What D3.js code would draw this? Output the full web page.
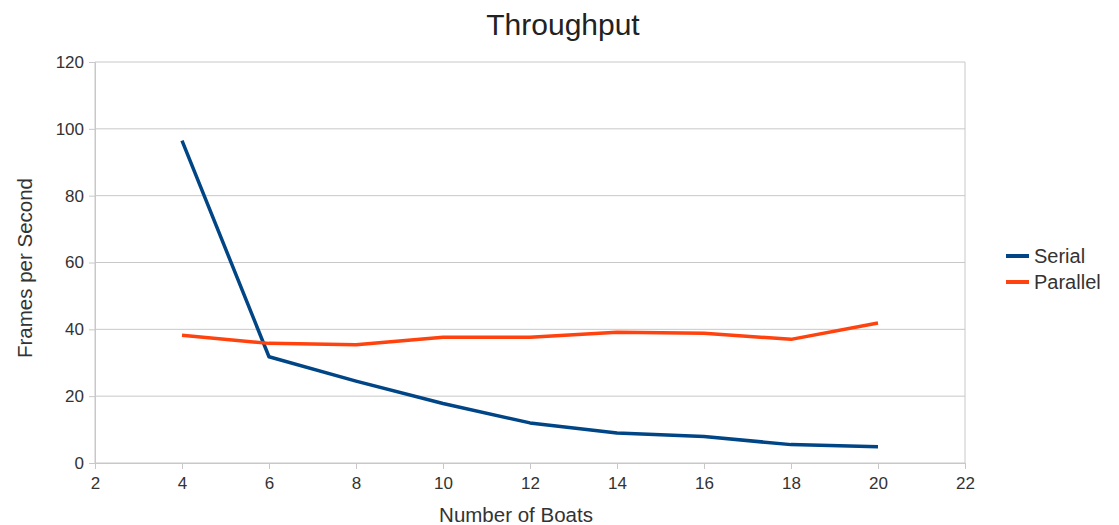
<!DOCTYPE html>
<html><head><meta charset="utf-8">
<script src="https://cdn.jsdelivr.net/npm/d3@7"></script>
<style>body{margin:0;background:#fff;font-family:"Liberation Sans",Arial,sans-serif;}</style>
</head><body><svg id="c" width="1119" height="525"></svg>
<script>
const boats = [4, 6, 8, 10, 12, 14, 16, 18, 20];
const serial = [96.5, 31.8, 24.5, 17.8, 12.0, 9.0, 7.9, 5.5, 4.9];
const parallel = [38.2, 35.8, 35.4, 37.6, 37.6, 39.1, 38.8, 37.0, 41.9];
const xTicks = [2, 4, 6, 8, 10, 12, 14, 16, 18, 20, 22];
const yTicks = [0, 20, 40, 60, 80, 100, 120];
const seriesNames = ["Serial", "Parallel"];
const colors = ["#004586", "#ff420e"];

const svg = d3.select("#c");
const L = 95, R = 965, T = 62, B = 463;
const x = d3.scaleLinear().domain([2, 22]).range([L, R]);
const y = d3.scaleLinear().domain([0, 120]).range([B, T]);
const grid = "#c8c8c8";

svg.append("g").selectAll("line").data(yTicks).join("line")
  .attr("x1", L).attr("x2", R).attr("y1", d => y(d)).attr("y2", d => y(d))
  .attr("stroke", grid).attr("stroke-width", 1);
svg.append("line").attr("x1", L).attr("x2", L).attr("y1", T).attr("y2", B).attr("stroke", grid);
svg.append("line").attr("x1", R).attr("x2", R).attr("y1", T).attr("y2", B).attr("stroke", grid);

const xa = svg.append("g").attr("transform", `translate(0,${B})`)
  .call(d3.axisBottom(x).tickValues(xTicks).tickSize(6).tickPadding(8));
const ya = svg.append("g").attr("transform", `translate(${L},0)`)
  .call(d3.axisLeft(y).tickValues(yTicks).tickSize(6).tickPadding(5));
[xa, ya].forEach(a => {
  a.select(".domain").attr("stroke", grid);
  a.selectAll(".tick line").attr("stroke", grid);
  a.selectAll("text").attr("font-family", "Liberation Sans, Arial, sans-serif")
    .attr("font-size", 17).attr("fill", "#333");
});

const line = d3.line().x((d, i) => x(boats[i])).y(d => y(d));
[serial, parallel].forEach((s, k) => {
  svg.append("path").datum(s).attr("d", line).attr("fill", "none")
    .attr("stroke", colors[k]).attr("stroke-width", 3.5).attr("stroke-linejoin", "round");
});

svg.append("text").attr("x", 563).attr("y", 35).attr("text-anchor", "middle")
  .attr("font-size", 30).attr("fill", "#222").text("Throughput");
svg.append("text").attr("x", 516).attr("y", 522).attr("text-anchor", "middle")
  .attr("font-size", 20.5).attr("fill", "#333").text("Number of Boats");
svg.append("text").attr("transform", `translate(32,268) rotate(-90)`)
  .attr("text-anchor", "middle").attr("font-size", 20.5).attr("fill", "#333").text("Frames per Second");

const lg = svg.append("g");
seriesNames.forEach((n, k) => {
  const yy = 256 + k * 26;
  lg.append("line").attr("x1", 1006).attr("x2", 1029).attr("y1", yy).attr("y2", yy)
    .attr("stroke", colors[k]).attr("stroke-width", 4);
  lg.append("text").attr("x", 1034).attr("y", yy + 7).attr("font-size", 20)
    .attr("fill", "#333").text(n);
});
</script></body></html>
